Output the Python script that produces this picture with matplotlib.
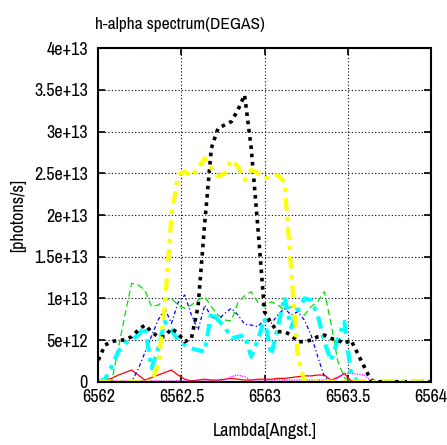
import numpy as np
import matplotlib
matplotlib.use("Agg")
import matplotlib.pyplot as plt
from matplotlib.ticker import FixedLocator, FuncFormatter

plt.rcParams['font.family'] = ['Archivo Narrow', 'Liberation Sans', 'DejaVu Sans']

# wavelength grid [Angstrom]
lam = np.linspace(6562.0, 6564.0, 51)

# photon counts, units of 1e12 photons/s
black = [2.6, 4.4, 4.8, 5.0, 5.0, 5.4, 6.2, 6.8, 6.0, 5.4,
         5.4, 6.4, 5.8, 4.8, 5.2, 9.0, 19.0, 28.0, 30.4, 30.8,
         31.2, 32.6, 34.4, 28.0, 18.5, 8.4, 7.0, 6.0, 6.0, 5.6,
         4.8, 4.8, 5.0, 5.4, 5.6, 5.2, 5.0, 4.6, 5.0, 3.4,
         1.8, 0.2, 0, 0, 0, 0, 0, 0, 0, 0, 0]
green = [0, 0, 0, 4.0, 8.0, 11.8, 11.6, 11.0, 9.0, 9.2,
         9.8, 10.0, 9.2, 8.8, 9.2, 9.8, 10.2, 9.0, 8.0, 7.4,
         7.3, 9.5, 10.3, 10.8, 9.5, 9.0, 9.6, 9.2, 8.6, 9.0,
         8.6, 8.0, 9.0, 9.6, 10.8, 7.0, 2.5, 0.5, 0, 0,
         0, 0, 0, 0, 0, 0, 0, 0, 0, 0, 0]
blue = [0, 0, 0, 0, 0, 0, 1.5, 3.5, 5.5, 7.4,
        8.8, 7.0, 9.5, 10.4, 8.0, 6.2, 9.2, 7.8, 7.4, 8.2,
        8.8, 8.0, 6.9, 6.8, 6.6, 7.5, 7.0, 8.0, 8.8, 8.0,
        8.4, 7.4, 5.6, 3.0, 0.6, 0, 0, 0, 0, 0,
        0, 0, 0, 0, 0, 0, 0, 0, 0, 0, 0]
cyan = [0, 0.3, 1.8, 3.6, 4.6, 5.0, 5.6, 6.6, 1.6, 4.0,
        7.2, 6.2, 5.0, 4.4, 4.0, 3.8, 3.6, 8.4, 7.4, 6.6,
        5.2, 5.4, 5.6, 3.0, 5.0, 7.6, 3.2, 6.5, 10.2, 6.5,
        8.5, 10.0, 9.8, 8.0, 4.8, 2.5, 5.0, 7.2, 1.0, 0,
        0, 0, 0, 0, 0, 0, 0, 0, 0, 0, 0]
yellow = [0, 0, 0, 0, 0, 0, 0, 0, 0, 2.0,
          9.0, 20.0, 24.8, 25.2, 24.6, 25.6, 26.8, 25.6, 24.6, 25.0,
          26.6, 25.8, 24.2, 25.4, 25.0, 24.4, 24.6, 24.8, 24.0, 13.5,
          3.0, 0, 0, 0, 0, 0, 0, 0, 0, 0,
          0, 0, 0, 0, 0, 0, 0, 0, 0, 0, 0]
red = [0, 0.2, 0.4, 0.8, 1.1, 1.4, 0.8, 0.2, 0.5, 0.8,
       1.1, 1.4, 0.8, 0.3, 0.1, 0.2, 0.3, 0.2, 0.2, 0.3,
       0.4, 0.3, 0.2, 0.2, 0.3, 0.3, 0.3, 0.4, 0.4, 0.5,
       0.6, 0.7, 0.7, 0.8, 0.8, 0.2, 0.5, 1.0, 0.1, 0,
       0, 0, 0, 0, 0, 0, 0, 0, 0, 0, 0]
magenta = [0.1, 0.1, 0.1, 0.1, 0.1, 0.1, 0.1, 0.1, 0.1, 0.1,
           0.1, 0.1, 0.1, 0.1, 0.1, 0.1, 0.1, 0.1, 0.1, 0.2,
           0.6, 0.8, 0.6, 0.2, 0.2, 0.2, 0.2, 0.2, 0.2, 0.2,
           0.2, 0.2, 0.2, 0.2, 0.2, 0.2, 0.4, 1.0, 1.0, 0.9,
           0.8, 0.1, 0, 0, 0, 0, 0, 0, 0, 0, 0]

ytick_vals = [0, 5e12, 1e13, 1.5e13, 2e13, 2.5e13, 3e13, 3.5e13, 4e13]
ytick_text = ['0', '5e+12', '1e+13', '1.5e+13', '2e+13', '2.5e+13', '3e+13', '3.5e+13', '4e+13']

fig = plt.figure(figsize=(4.47, 4.45), dpi=100)
ax = fig.add_axes([0.22, 0.1422, 0.7436, 0.7493])

s = 1e12
ax.plot(lam, np.array(red) * s, color='#ff0000', lw=0.9, ls='-')
ax.plot(lam, np.array(green) * s, color='#00e000', lw=0.9, ls=(0, (5, 3)))
ax.plot(lam, np.array(blue) * s, color='#0000ff', lw=0.9, ls=(0, (3, 2, 1, 2)))
ax.plot(lam, np.array(magenta) * s, color='#ff00ff', lw=0.9, ls=(0, (1, 1)))
ax.plot(lam, np.array(cyan) * s, color='#00ffff', lw=3.0, ls=(0, (3, 1.5, 1, 1.5)))
ax.plot(lam, np.array(black) * s, color='black', lw=2.6, ls=(0, (1, 1.3)))
ax.plot(lam, np.array(yellow) * s, color='#ffff00', lw=3.0, ls=(0, (3, 1.5, 1, 1.5)))

ax.set_xlim(6562, 6564)
ax.set_ylim(0, 4e13)
ax.xaxis.set_major_locator(FixedLocator([6562, 6562.5, 6563, 6563.5, 6564]))
ax.xaxis.set_major_formatter(FuncFormatter(lambda v, p: '%g' % v))
ax.yaxis.set_major_locator(FixedLocator(ytick_vals))
ax.set_yticklabels(ytick_text)

ax.grid(True, color='black', ls=(0, (1, 2)), lw=0.8)
ax.tick_params(direction='in', length=5, width=1.2, labelsize=13,
               top=True, right=True)
ax.tick_params(axis='y', pad=7.5)
ax.tick_params(axis='x', pad=5)
for sp in ax.spines.values():
    sp.set_linewidth(1.5)

ax.set_xlabel('Lambda[Angst.]', fontsize=13, labelpad=13)
ax.set_ylabel('[photons/s]', fontsize=13, labelpad=6)
fig.text(0.213, 0.935, 'h-alpha spectrum(DEGAS)', fontsize=12.5, ha='left', va='baseline')

fig.savefig('out.png', dpi=100)
